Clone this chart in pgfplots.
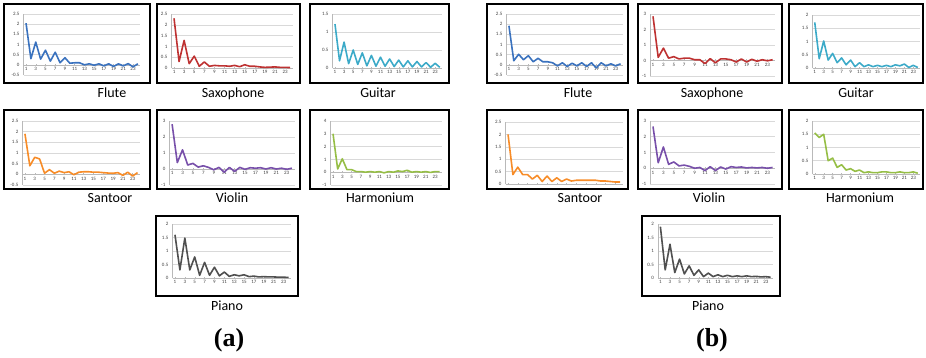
\documentclass[border=0pt]{standalone}
\usepackage{pgfplots}
\pgfplotsset{compat=1.18}
\usepackage{fontspec}
\setmainfont{Carlito}
\newfontfamily\capfont{Liberation Serif}
\definecolor{cflute}{RGB}{58,114,190}
\definecolor{csax}{RGB}{190,50,50}
\definecolor{cguitar}{RGB}{60,170,200}
\definecolor{csantoor}{RGB}{247,140,40}
\definecolor{cviolin}{RGB}{120,80,170}
\definecolor{charm}{RGB}{150,190,70}
\definecolor{cpiano}{RGB}{80,80,80}
\pgfplotsset{
 mini/.style n args={4}{
   at={(#1pt,-#2pt)}, anchor=north west, scale only axis, width=#3pt, height=#4pt,
   xmin=0.5, xmax=24.5, xtick={1,3,...,23},
   axis x line=middle, axis y line=left,
   axis line style={-, draw=gray!55, line width=0.5pt},
   ymajorgrids, grid style={gray!30, line width=0.5pt},
   xtick style={draw=gray!55, line width=0.4pt}, ytick style={draw=none},
   major tick length=2pt,
   tick label style={font=\fontsize{5}{6}\selectfont, text=black!75},
   /pgf/number format/assume math mode=true,
   hide obscured x ticks=false, hide obscured y ticks=false,
   xticklabel style={inner sep=1pt, yshift=-0.5pt},
   yticklabel style={inner sep=1pt, xshift=-2pt},
   clip=false,
 },
 ln/.style={line width=1.6pt, line join=round, no marks},
}
\begin{document}
\begin{tikzpicture}
\useasboundingbox (0,0) rectangle (926pt,-358pt);
% frames
\begin{scope}[line width=2.2pt]
\draw (4pt,-4pt) rectangle (150pt,-83pt);
\draw (157pt,-4pt) rectangle (300pt,-83pt);
\draw (310pt,-4pt) rectangle (449pt,-83pt);
\draw (4pt,-110pt) rectangle (150pt,-189pt);
\draw (157pt,-110pt) rectangle (300pt,-189pt);
\draw (310pt,-110pt) rectangle (449pt,-189pt);
\draw (156pt,-216pt) rectangle (298pt,-296pt);
\draw (487pt,-4pt) rectangle (628pt,-83pt);
\draw (638pt,-4pt) rectangle (782pt,-83pt);
\draw (789pt,-4pt) rectangle (923pt,-83pt);
\draw (487pt,-110pt) rectangle (628pt,-189pt);
\draw (638pt,-110pt) rectangle (782pt,-189pt);
\draw (789pt,-110pt) rectangle (923pt,-189pt);
\draw (642pt,-216pt) rectangle (780pt,-296pt);
\end{scope}
% ---------------- (a) ----------------
\begin{axis}[mini={23.6}{14}{116.7}{61}, ymin=-0.5, ymax=2.5, ytick={-0.5,0,0.5,1,1.5,2,2.5}]
\addplot[ln, cflute] coordinates {(1,2.05)(2,0.3)(3,1.12)(4,0.28)(5,0.72)(6,0.18)(7,0.62)(8,0.1)(9,0.35)(10,0.08)(11,0.1)(12,0.1)(13,0.0)(14,0.05)(15,-0.02)(16,0.05)(17,-0.05)(18,0.05)(19,-0.08)(20,0.05)(21,-0.05)(22,0.06)(23,-0.1)(24,0.05)};
\end{axis}
\begin{axis}[mini={171.5}{14}{121.2}{54}, ymin=0, ymax=2.5, ytick={0,0.5,1,1.5,2,2.5}]
\addplot[ln, csax] coordinates {(1,2.3)(2,0.3)(3,1.28)(4,0.2)(5,0.55)(6,0.08)(7,0.28)(8,0.08)(9,0.12)(10,0.1)(11,0.1)(12,0.08)(13,0.12)(14,0.06)(15,0.15)(16,0.08)(17,0.08)(18,0.05)(19,0.03)(20,0.04)(21,0.05)(22,0.03)(23,0.03)(24,0.02)};
\end{axis}
\begin{axis}[mini={332.7}{14}{109.3}{54}, ymin=0, ymax=1.5, ytick={0,0.5,1,1.5}]
\addplot[ln, cguitar] coordinates {(1,1.22)(2,0.2)(3,0.72)(4,0.12)(5,0.5)(6,0.1)(7,0.42)(8,0.06)(9,0.35)(10,0.05)(11,0.3)(12,0.05)(13,0.25)(14,0.04)(15,0.22)(16,0.03)(17,0.2)(18,0.03)(19,0.18)(20,0.03)(21,0.15)(22,0.02)(23,0.13)(24,0.02)};
\end{axis}
\begin{axis}[mini={22.5}{121}{117.5}{64}, ymin=-0.5, ymax=2.5, ytick={-0.5,0,0.5,1,1.5,2,2.5}]
\addplot[ln, csantoor] coordinates {(1,1.9)(2,0.4)(3,0.8)(4,0.72)(5,0.05)(6,0.22)(7,0.05)(8,0.15)(9,0.08)(10,0.12)(11,-0.02)(12,0.1)(13,0.12)(14,0.12)(15,0.1)(16,0.1)(17,0.08)(18,0.06)(19,0.05)(20,0.08)(21,-0.05)(22,0.1)(23,-0.08)(24,0.08)};
\end{axis}
\begin{axis}[mini={169.5}{121}{125}{64}, ymin=-1, ymax=3, ytick={-1,0,1,2,3}]
\addplot[ln, cviolin] coordinates {(1,2.8)(2,0.4)(3,1.2)(4,0.25)(5,0.35)(6,0.12)(7,0.2)(8,0.1)(9,-0.05)(10,0.1)(11,-0.2)(12,0.1)(13,-0.15)(14,0.1)(15,-0.02)(16,0.08)(17,0.05)(18,0.08)(19,0.0)(20,0.08)(21,0.0)(22,0.05)(23,-0.02)(24,0.05)};
\end{axis}
\begin{axis}[mini={330.7}{121}{111.3}{64}, ymin=-1, ymax=4, ytick={-1,0,1,2,3,4}]
\addplot[ln, charm] coordinates {(1,3.0)(2,0.25)(3,1.05)(4,0.2)(5,0.2)(6,0.05)(7,0.05)(8,0.0)(9,0.05)(10,0.0)(11,0.05)(12,-0.05)(13,0.05)(14,0.0)(15,0.1)(16,0.05)(17,0.15)(18,0.0)(19,0.05)(20,0.0)(21,0.05)(22,-0.02)(23,0.05)(24,0.05)};
\end{axis}
\begin{axis}[mini={172.5}{224}{118.5}{54}, ymin=0, ymax=2, ytick={0,0.5,1,1.5,2}]
\addplot[ln, cpiano] coordinates {(1,1.6)(2,0.3)(3,1.48)(4,0.3)(5,0.78)(6,0.1)(7,0.58)(8,0.1)(9,0.4)(10,0.08)(11,0.22)(12,0.06)(13,0.12)(14,0.08)(15,0.12)(16,0.05)(17,0.07)(18,0.04)(19,0.05)(20,0.04)(21,0.04)(22,0.03)(23,0.03)(24,0.02)};
\end{axis}
% ---------------- (b) ----------------
\begin{axis}[mini={506.5}{14}{116.5}{61}, ymin=-0.5, ymax=2.5, ytick={-0.5,0,0.5,1,1.5,2,2.5}]
\addplot[ln, cflute] coordinates {(1,1.92)(2,0.2)(3,0.52)(4,0.25)(5,0.45)(6,0.15)(7,0.32)(8,0.15)(9,0.15)(10,0.1)(11,-0.05)(12,0.1)(13,-0.08)(14,0.08)(15,-0.05)(16,0.1)(17,-0.08)(18,0.1)(19,-0.15)(20,0.1)(21,-0.05)(22,0.05)(23,-0.05)(24,0.05)};
\end{axis}
\begin{axis}[mini={650.4}{14}{124.8}{62}, ymin=-1, ymax=3, ytick={-1,0,1,2,3}]
\addplot[ln, csax] coordinates {(1,2.85)(2,0.2)(3,0.8)(4,0.15)(5,0.25)(6,0.1)(7,0.15)(8,0.15)(9,0.05)(10,0.05)(11,-0.2)(12,0.12)(13,-0.15)(14,0.1)(15,0.1)(16,0.05)(17,-0.1)(18,0.1)(19,-0.1)(20,0.08)(21,-0.05)(22,0.05)(23,-0.02)(24,0.05)};
\end{axis}
\begin{axis}[mini={812.5}{15}{107.5}{53}, ymin=0, ymax=2, ytick={0,0.5,1,1.5,2}]
\addplot[ln, cguitar] coordinates {(1,1.72)(2,0.35)(3,1.02)(4,0.3)(5,0.55)(6,0.2)(7,0.38)(8,0.12)(9,0.3)(10,0.05)(11,0.2)(12,0.05)(13,0.12)(14,0.05)(15,0.1)(16,0.05)(17,0.1)(18,0.05)(19,0.12)(20,0.08)(21,0.15)(22,0.02)(23,0.1)(24,0.02)};
\end{axis}
\begin{axis}[mini={505.6}{122}{117}{62}, ymin=0, ymax=2.5, ytick={0,0.5,1,1.5,2,2.5}, xticklabels={}]
\addplot[ln, csantoor] coordinates {(1,2.0)(2,0.38)(3,0.68)(4,0.38)(5,0.38)(6,0.2)(7,0.35)(8,0.1)(9,0.32)(10,0.1)(11,0.25)(12,0.1)(13,0.2)(14,0.12)(15,0.15)(16,0.15)(17,0.15)(18,0.15)(19,0.15)(20,0.12)(21,0.12)(22,0.1)(23,0.08)(24,0.08)};
\end{axis}
\begin{axis}[mini={650.4}{121}{124.8}{63}, ymin=-1, ymax=3, ytick={-1,0,1,2,3}]
\addplot[ln, cviolin] coordinates {(1,2.65)(2,0.35)(3,1.35)(4,0.25)(5,0.4)(6,0.15)(7,0.2)(8,0.12)(9,0.0)(10,0.05)(11,-0.15)(12,0.1)(13,-0.15)(14,0.08)(15,-0.05)(16,0.1)(17,0.05)(18,0.08)(19,0.02)(20,0.05)(21,0.02)(22,0.05)(23,0.0)(24,0.05)};
\end{axis}
\begin{axis}[mini={812.5}{121}{107.5}{53}, ymin=0, ymax=2, ytick={0,0.5,1,1.5,2}]
\addplot[ln, charm] coordinates {(1,1.55)(2,1.38)(3,1.5)(4,0.5)(5,0.6)(6,0.25)(7,0.35)(8,0.15)(9,0.2)(10,0.1)(11,0.15)(12,0.05)(13,0.08)(14,0.05)(15,0.05)(16,0.08)(17,0.08)(18,0.05)(19,0.05)(20,0.08)(21,0.05)(22,0.05)(23,0.08)(24,0.03)};
\end{axis}
\begin{axis}[mini={658}{224}{115}{54}, ymin=0, ymax=2, ytick={0,0.5,1,1.5,2}]
\addplot[ln, cpiano] coordinates {(1,1.9)(2,0.3)(3,1.25)(4,0.2)(5,0.7)(6,0.15)(7,0.45)(8,0.1)(9,0.3)(10,0.05)(11,0.18)(12,0.05)(13,0.12)(14,0.05)(15,0.1)(16,0.05)(17,0.08)(18,0.05)(19,0.08)(20,0.05)(21,0.06)(22,0.04)(23,0.05)(24,0.03)};
\end{axis}
% ---------------- labels ----------------
\begin{scope}[every node/.style={anchor=base, font=\fontsize{14}{16}\selectfont, inner sep=0pt}]
\node at (112pt,-98pt) {Flute};
\node at (233pt,-98pt) {Saxophone};
\node at (378pt,-98pt) {Guitar};
\node at (110pt,-203pt) {Santoor};
\node at (232pt,-203pt) {Violin};
\node at (380pt,-203pt) {Harmonium};
\node at (227pt,-310pt) {Piano};
\node at (578pt,-98pt) {Flute};
\node at (712pt,-98pt) {Saxophone};
\node at (856pt,-98pt) {Guitar};
\node at (580pt,-203pt) {Santoor};
\node at (709pt,-203pt) {Violin};
\node at (860pt,-203pt) {Harmonium};
\node at (708pt,-310pt) {Piano};
\end{scope}
\node[font=\capfont\bfseries\fontsize{26}{28}\selectfont, inner sep=0pt] at (229pt,-340pt) {(a)};
\node[font=\capfont\bfseries\fontsize{26}{28}\selectfont, inner sep=0pt] at (712pt,-340pt) {(b)};
\end{tikzpicture}
\end{document}
